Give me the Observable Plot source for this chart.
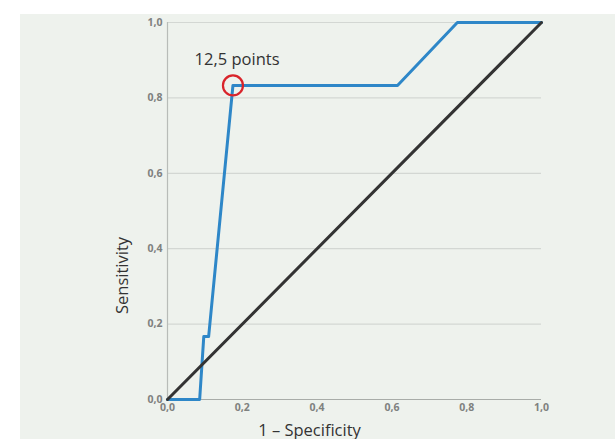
<!DOCTYPE html>
<html>
<head>
<meta charset="utf-8">
<script src="https://cdn.jsdelivr.net/npm/d3@7"></script>
<script src="https://cdn.jsdelivr.net/npm/@observablehq/plot@0.6"></script>
<style>
  html, body { margin: 0; padding: 0; background: #ffffff; }
  #wrap { position: relative; width: 615px; height: 439px; overflow: hidden; }
  #panel { position: absolute; left: 20px; top: 14px; width: 595px; height: 425px; background: #eef2ed; }
  #chart { position: absolute; left: 0; top: 0; }
</style>
</head>
<body>
<div id="wrap"><div id="panel"></div><div id="chart"></div></div>
<script>
// ROC curve (1 - specificity vs sensitivity)
const fpr = [0, 0.086, 0.097, 0.110, 0.175, 0.615, 0.775, 1.0];
const tpr = [0, 0, 0.167, 0.167, 0.833, 0.833, 1.0, 1.0];
// reference diagonal
const refX = [0, 1];
const refY = [0, 1];
// highlighted cut-off
const cutX = [0.175];
const cutY = [0.833];
const cutLabel = ["12,5 points"];
const labelX = [0.186];
const labelY = [0.9];
// ticks
const ticks = [0, 0.2, 0.4, 0.6, 0.8, 1.0];
const gridTicks = [0.2, 0.4, 0.6, 0.8, 1.0];
const xTitle = "1 – Specificity";
const yTitle = "Sensitivity";

const roc = fpr.map((x, i) => ({x, y: tpr[i]}));
const diag = refX.map((x, i) => ({x, y: refY[i]}));
const fmt = d => d.toFixed(1).replace(".", ",");
const font = "'Open Sans', 'Noto Sans', sans-serif";

const chart = Plot.plot({
  width: 615,
  height: 439,
  marginLeft: 167,
  marginRight: 74,
  marginTop: 22,
  marginBottom: 40,
  style: {background: "transparent", fontFamily: font},
  x: {domain: [0, 1]},
  y: {domain: [0, 1]},
  marks: [
    Plot.ruleY(gridTicks, {stroke: "#d3d7d3", strokeWidth: 1.2}),
    Plot.ruleX([0], {stroke: "#b8bcb8", strokeWidth: 1.2}),
    Plot.ruleY([0], {stroke: "#a8aca8", strokeWidth: 1.2}),
    Plot.axisX(ticks, {tickSize: 0, tickPadding: 4, tickFormat: fmt, fill: "#7f817f", fontSize: 10.5, fontWeight: "bold", label: null}),
    Plot.axisY(ticks, {tickSize: 0, tickPadding: 5, tickFormat: fmt, fill: "#7f817f", fontSize: 10.5, fontWeight: "bold", label: null}),
    Plot.line(roc, {x: "x", y: "y", stroke: "#2e87c8", strokeWidth: 3, strokeLinejoin: "round"}),
    Plot.line(diag, {x: "x", y: "y", stroke: "#333333", strokeWidth: 3}),
    Plot.dot(cutX.map((x, i) => ({x, y: cutY[i]})), {x: "x", y: "y", r: 10, stroke: "#d9242b", strokeWidth: 2.2, fill: "none"}),
    Plot.text(cutLabel.map((t, i) => ({t, x: labelX[i], y: labelY[i]})), {x: "x", y: "y", text: "t", fontSize: 16.5, fill: "#333", fontFamily: font}),
    Plot.text([yTitle], {frameAnchor: "left", text: d => d, rotate: -90, dx: -45, dy: 103, fontSize: 16.5, fill: "#333", fontFamily: font}),
    Plot.text([xTitle], {frameAnchor: "bottom", text: d => d, dx: -45, dy: 36, fontSize: 16.5, fill: "#333", fontFamily: font})
  ]
});
document.getElementById("chart").appendChild(chart);
</script>
</body>
</html>
